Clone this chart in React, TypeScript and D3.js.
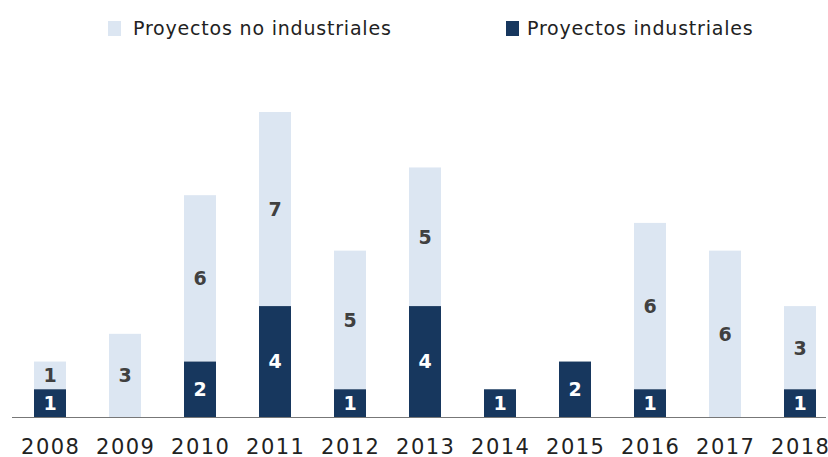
import React from "react";
import * as d3 from "d3";

const years = ["2008","2009","2010","2011","2012","2013","2014","2015","2016","2017","2018"];
const industriales = [1,0,2,4,1,4,1,2,1,0,1];
const noIndustriales = [1,3,6,7,5,5,0,0,6,6,3];
const seriesNames = ["Proyectos no industriales","Proyectos industriales"];

const W = 828, H = 457;
const DARK = "#17375E";
const LIGHT = "#DCE6F2";
const FONT = "DejaVu Sans, Verdana, sans-serif";

export default function App() {
  const xc = d3.scalePoint<string>().domain(years).range([50, 800]);
  const y = d3.scaleLinear().domain([0, 11]).range([417, 112]);
  const bw = 32;

  return (
    <svg width={W} height={H} style={{ position: "absolute", left: 0, top: 0 }}>
      <rect x={0} y={0} width={W} height={H} fill="#fff" />
      {/* legend */}
      <rect x={108} y={21} width={13} height={15} fill={LIGHT} />
      <text x={133} y={35} fontFamily={FONT} fontSize={19} letterSpacing={0.8} fill="#222">{seriesNames[0]}</text>
      <rect x={506} y={21} width={13} height={15} fill={DARK} />
      <text x={527} y={35} fontFamily={FONT} fontSize={19} letterSpacing={0.8} fill="#222">{seriesNames[1]}</text>

      {years.map((yr, i) => {
        const cx = xc(yr)!;
        const ind = industriales[i];
        const non = noIndustriales[i];
        return (
          <g key={yr}>
            {non > 0 && (
              <rect x={cx - bw / 2} y={y(ind + non)} width={bw} height={y(ind) - y(ind + non)} fill={LIGHT} />
            )}
            {ind > 0 && (
              <rect x={cx - bw / 2} y={y(ind)} width={bw} height={y(0) - y(ind)} fill={DARK} />
            )}
            {ind > 0 && (
              <text x={cx} y={(y(0) + y(ind)) / 2} dy="0.36em" textAnchor="middle" fontFamily={FONT} fontWeight="bold" fontSize={19} fill="#fff">{ind}</text>
            )}
            {non > 0 && (
              <text x={cx} y={(y(ind) + y(ind + non)) / 2} dy="0.36em" textAnchor="middle" fontFamily={FONT} fontWeight="bold" fontSize={19} fill="#404040">{non}</text>
            )}
            <text x={cx + 0.75} y={454} textAnchor="middle" fontFamily={FONT} fontSize={21} letterSpacing={1.5} fill="#222">{yr}</text>
          </g>
        );
      })}
      <line x1={12} x2={826} y1={417.5} y2={417.5} stroke="#777" strokeWidth={1} />
    </svg>
  );
}
